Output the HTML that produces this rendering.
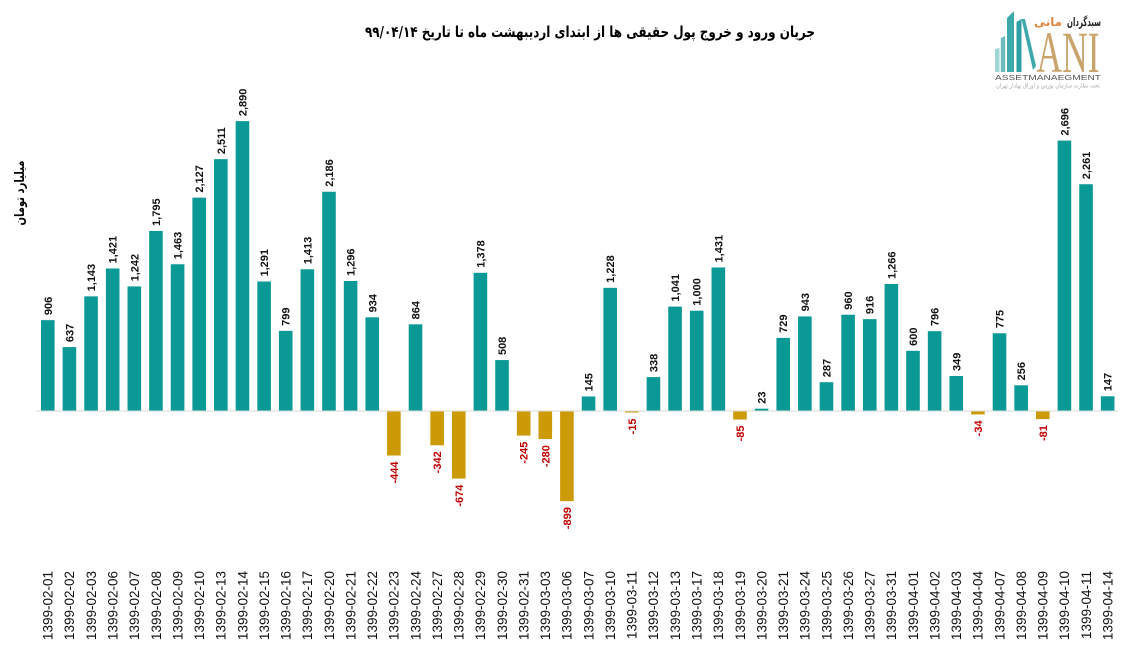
<!DOCTYPE html>
<html>
<head>
<meta charset="utf-8">
<style>
html,body{margin:0;padding:0;background:#fff;}
svg{display:block;}
.v{font-family:"Liberation Sans",sans-serif;font-size:11px;font-weight:bold;fill:#111;}
.n{font-family:"Liberation Sans",sans-serif;font-size:11px;font-weight:bold;fill:#c00000;}
.xl{font-family:"Liberation Sans",sans-serif;font-size:13.5px;fill:#111;}
.fa{font-family:"DejaVu Sans","Noto Sans CJK SC",sans-serif;}
</style>
</head>
<body>
<svg width="1123" height="663" viewBox="0 0 1123 663" xmlns="http://www.w3.org/2000/svg">
<rect width="1123" height="663" fill="#fff"/>

<!-- Title -->
<text class="fa" x="590" y="37" text-anchor="middle" font-size="15" font-weight="bold" fill="#000" textLength="450" lengthAdjust="spacingAndGlyphs">جریان ورود و خروج پول حقیقی ها از ابتدای اردیبهشت ماه تا تاریخ ۹۹/۰۴/۱۴</text>

<!-- Y axis title -->
<text class="fa" transform="translate(24,193) rotate(-90)" text-anchor="middle" font-size="13" font-weight="bold" fill="#000" textLength="65" lengthAdjust="spacingAndGlyphs">میلیارد تومان</text>

<!-- Logo -->
<g>
  <polygon points="995,49 999.5,48 999.5,72 995,72" fill="#9fd5d4"/>
  <polygon points="1000.8,38 1005.2,36 1005.2,72 1000.8,72" fill="#6cbcbd"/>
  <polygon points="1007,18 1014,11 1014,72 1007,72" fill="#3ea9ab"/>
  <polygon points="1016.5,22 1021.5,19 1021.5,72 1016.5,72" fill="#2e9fa2"/>
  <polygon points="1021.5,19 1025,19 1036,66 1033,70" fill="#3ea9ab"/>
  <text x="1068" y="72" font-family="Liberation Serif,serif" font-size="58" fill="#c9a46d" textLength="63" lengthAdjust="spacingAndGlyphs" text-anchor="middle">ANI</text>
  <text x="995" y="80" font-family="Liberation Sans,sans-serif" font-size="7.5" fill="#555" textLength="106" lengthAdjust="spacingAndGlyphs">ASSETMANAEGMENT</text>
  <text class="fa" x="1048" y="87.5" text-anchor="middle" font-size="6" fill="#aaa" textLength="104" lengthAdjust="spacingAndGlyphs">تحت نظارت سازمان بورس و اوراق بهادار تهران</text>
  <text class="fa" x="1084" y="26" text-anchor="middle" font-size="12" font-weight="bold" fill="#222" textLength="34" lengthAdjust="spacingAndGlyphs">سبدگردان</text>
  <text class="fa" x="1048" y="26" text-anchor="middle" font-size="12" font-weight="bold" fill="#e0853e" textLength="28" lengthAdjust="spacingAndGlyphs">مانی</text>
</g>

<!-- Bars -->
<g fill="#0a9994">
<rect x="41.00" y="320.13" width="13.6" height="90.87"/>
<rect x="62.63" y="347.11" width="13.6" height="63.89"/>
<rect x="84.26" y="296.36" width="13.6" height="114.64"/>
<rect x="105.89" y="268.47" width="13.6" height="142.53"/>
<rect x="127.52" y="286.43" width="13.6" height="124.57"/>
<rect x="149.15" y="230.96" width="13.6" height="180.04"/>
<rect x="170.78" y="264.26" width="13.6" height="146.74"/>
<rect x="192.41" y="197.66" width="13.6" height="213.34"/>
<rect x="214.04" y="159.15" width="13.6" height="251.85"/>
<rect x="235.67" y="121.13" width="13.6" height="289.87"/>
<rect x="257.30" y="281.51" width="13.6" height="129.49"/>
<rect x="278.93" y="330.86" width="13.6" height="80.14"/>
<rect x="300.56" y="269.28" width="13.6" height="141.72"/>
<rect x="322.19" y="191.74" width="13.6" height="219.26"/>
<rect x="343.82" y="281.01" width="13.6" height="129.99"/>
<rect x="365.45" y="317.32" width="13.6" height="93.68"/>
<rect x="408.71" y="324.34" width="13.6" height="86.66"/>
<rect x="473.60" y="272.79" width="13.6" height="138.21"/>
<rect x="495.23" y="360.05" width="13.6" height="50.95"/>
<rect x="581.75" y="396.46" width="13.6" height="14.54"/>
<rect x="603.38" y="287.83" width="13.6" height="123.17"/>
<rect x="646.64" y="377.10" width="13.6" height="33.90"/>
<rect x="668.27" y="306.59" width="13.6" height="104.41"/>
<rect x="689.90" y="310.70" width="13.6" height="100.30"/>
<rect x="711.53" y="267.47" width="13.6" height="143.53"/>
<rect x="754.79" y="408.69" width="13.6" height="2.31"/>
<rect x="776.42" y="337.88" width="13.6" height="73.12"/>
<rect x="798.05" y="316.42" width="13.6" height="94.58"/>
<rect x="819.68" y="382.21" width="13.6" height="28.79"/>
<rect x="841.31" y="314.71" width="13.6" height="96.29"/>
<rect x="862.94" y="319.13" width="13.6" height="91.87"/>
<rect x="884.57" y="284.02" width="13.6" height="126.98"/>
<rect x="906.20" y="350.82" width="13.6" height="60.18"/>
<rect x="927.83" y="331.16" width="13.6" height="79.84"/>
<rect x="949.46" y="376.00" width="13.6" height="35.00"/>
<rect x="992.72" y="333.27" width="13.6" height="77.73"/>
<rect x="1014.35" y="385.32" width="13.6" height="25.68"/>
<rect x="1057.61" y="140.59" width="13.6" height="270.41"/>
<rect x="1079.24" y="184.22" width="13.6" height="226.78"/>
<rect x="1100.87" y="396.26" width="13.6" height="14.74"/>
</g>
<g fill="#cc9a06">
<rect x="387.08" y="411" width="13.6" height="44.53"/>
<rect x="430.34" y="411" width="13.6" height="34.30"/>
<rect x="451.97" y="411" width="13.6" height="67.60"/>
<rect x="516.86" y="411" width="13.6" height="24.57"/>
<rect x="538.49" y="411" width="13.6" height="28.08"/>
<rect x="560.12" y="411" width="13.6" height="90.17"/>
<rect x="625.01" y="411" width="13.6" height="1.50"/>
<rect x="733.16" y="411" width="13.6" height="8.53"/>
<rect x="971.09" y="411" width="13.6" height="3.41"/>
<rect x="1035.98" y="411" width="13.6" height="8.12"/>
</g>

<!-- zero axis -->
<line x1="36" y1="411" x2="1118" y2="411" stroke="#d9d9d9" stroke-width="1"/>

<!-- Positive value labels -->
<g class="v">
<text transform="translate(51.80,315.13) rotate(-90)">906</text>
<text transform="translate(73.43,342.11) rotate(-90)">637</text>
<text transform="translate(95.06,291.36) rotate(-90)">1,143</text>
<text transform="translate(116.69,263.47) rotate(-90)">1,421</text>
<text transform="translate(138.32,281.43) rotate(-90)">1,242</text>
<text transform="translate(159.95,225.96) rotate(-90)">1,795</text>
<text transform="translate(181.58,259.26) rotate(-90)">1,463</text>
<text transform="translate(203.21,192.66) rotate(-90)">2,127</text>
<text transform="translate(224.84,154.15) rotate(-90)">2,511</text>
<text transform="translate(246.47,116.13) rotate(-90)">2,890</text>
<text transform="translate(268.10,276.51) rotate(-90)">1,291</text>
<text transform="translate(289.73,325.86) rotate(-90)">799</text>
<text transform="translate(311.36,264.28) rotate(-90)">1,413</text>
<text transform="translate(332.99,186.74) rotate(-90)">2,186</text>
<text transform="translate(354.62,276.01) rotate(-90)">1,296</text>
<text transform="translate(376.25,312.32) rotate(-90)">934</text>
<text transform="translate(419.51,319.34) rotate(-90)">864</text>
<text transform="translate(484.40,267.79) rotate(-90)">1,378</text>
<text transform="translate(506.03,355.05) rotate(-90)">508</text>
<text transform="translate(592.55,391.46) rotate(-90)">145</text>
<text transform="translate(614.18,282.83) rotate(-90)">1,228</text>
<text transform="translate(657.44,372.10) rotate(-90)">338</text>
<text transform="translate(679.07,301.59) rotate(-90)">1,041</text>
<text transform="translate(700.70,305.70) rotate(-90)">1,000</text>
<text transform="translate(722.33,262.47) rotate(-90)">1,431</text>
<text transform="translate(765.59,403.69) rotate(-90)">23</text>
<text transform="translate(787.22,332.88) rotate(-90)">729</text>
<text transform="translate(808.85,311.42) rotate(-90)">943</text>
<text transform="translate(830.48,377.21) rotate(-90)">287</text>
<text transform="translate(852.11,309.71) rotate(-90)">960</text>
<text transform="translate(873.74,314.13) rotate(-90)">916</text>
<text transform="translate(895.37,279.02) rotate(-90)">1,266</text>
<text transform="translate(917.00,345.82) rotate(-90)">600</text>
<text transform="translate(938.63,326.16) rotate(-90)">796</text>
<text transform="translate(960.26,371.00) rotate(-90)">349</text>
<text transform="translate(1003.52,328.27) rotate(-90)">775</text>
<text transform="translate(1025.15,380.32) rotate(-90)">256</text>
<text transform="translate(1068.41,135.59) rotate(-90)">2,696</text>
<text transform="translate(1090.04,179.22) rotate(-90)">2,261</text>
<text transform="translate(1111.67,391.26) rotate(-90)">147</text>
</g>

<!-- Negative value labels -->
<g class="n" text-anchor="end">
<text transform="translate(397.88,461.53) rotate(-90)">-444</text>
<text transform="translate(441.14,451.30) rotate(-90)">-342</text>
<text transform="translate(462.77,484.60) rotate(-90)">-674</text>
<text transform="translate(527.66,441.57) rotate(-90)">-245</text>
<text transform="translate(549.29,445.08) rotate(-90)">-280</text>
<text transform="translate(570.92,507.17) rotate(-90)">-899</text>
<text transform="translate(635.81,418.50) rotate(-90)">-15</text>
<text transform="translate(743.96,425.53) rotate(-90)">-85</text>
<text transform="translate(981.89,420.41) rotate(-90)">-34</text>
<text transform="translate(1046.78,425.12) rotate(-90)">-81</text>
</g>

<!-- X axis labels -->
<g class="xl" text-anchor="end">
<text transform="translate(52.60,571) rotate(-90)">1399-02-01</text>
<text transform="translate(74.23,571) rotate(-90)">1399-02-02</text>
<text transform="translate(95.86,571) rotate(-90)">1399-02-03</text>
<text transform="translate(117.49,571) rotate(-90)">1399-02-06</text>
<text transform="translate(139.12,571) rotate(-90)">1399-02-07</text>
<text transform="translate(160.75,571) rotate(-90)">1399-02-08</text>
<text transform="translate(182.38,571) rotate(-90)">1399-02-09</text>
<text transform="translate(204.01,571) rotate(-90)">1399-02-10</text>
<text transform="translate(225.64,571) rotate(-90)">1399-02-13</text>
<text transform="translate(247.27,571) rotate(-90)">1399-02-14</text>
<text transform="translate(268.90,571) rotate(-90)">1399-02-15</text>
<text transform="translate(290.53,571) rotate(-90)">1399-02-16</text>
<text transform="translate(312.16,571) rotate(-90)">1399-02-17</text>
<text transform="translate(333.79,571) rotate(-90)">1399-02-20</text>
<text transform="translate(355.42,571) rotate(-90)">1399-02-21</text>
<text transform="translate(377.05,571) rotate(-90)">1399-02-22</text>
<text transform="translate(398.68,571) rotate(-90)">1399-02-23</text>
<text transform="translate(420.31,571) rotate(-90)">1399-02-24</text>
<text transform="translate(441.94,571) rotate(-90)">1399-02-27</text>
<text transform="translate(463.57,571) rotate(-90)">1399-02-28</text>
<text transform="translate(485.20,571) rotate(-90)">1399-02-29</text>
<text transform="translate(506.83,571) rotate(-90)">1399-02-30</text>
<text transform="translate(528.46,571) rotate(-90)">1399-02-31</text>
<text transform="translate(550.09,571) rotate(-90)">1399-03-03</text>
<text transform="translate(571.72,571) rotate(-90)">1399-03-06</text>
<text transform="translate(593.35,571) rotate(-90)">1399-03-07</text>
<text transform="translate(614.98,571) rotate(-90)">1399-03-10</text>
<text transform="translate(636.61,571) rotate(-90)">1399-03-11</text>
<text transform="translate(658.24,571) rotate(-90)">1399-03-12</text>
<text transform="translate(679.87,571) rotate(-90)">1399-03-13</text>
<text transform="translate(701.50,571) rotate(-90)">1399-03-17</text>
<text transform="translate(723.13,571) rotate(-90)">1399-03-18</text>
<text transform="translate(744.76,571) rotate(-90)">1399-03-19</text>
<text transform="translate(766.39,571) rotate(-90)">1399-03-20</text>
<text transform="translate(788.02,571) rotate(-90)">1399-03-21</text>
<text transform="translate(809.65,571) rotate(-90)">1399-03-24</text>
<text transform="translate(831.28,571) rotate(-90)">1399-03-25</text>
<text transform="translate(852.91,571) rotate(-90)">1399-03-26</text>
<text transform="translate(874.54,571) rotate(-90)">1399-03-27</text>
<text transform="translate(896.17,571) rotate(-90)">1399-03-31</text>
<text transform="translate(917.80,571) rotate(-90)">1399-04-01</text>
<text transform="translate(939.43,571) rotate(-90)">1399-04-02</text>
<text transform="translate(961.06,571) rotate(-90)">1399-04-03</text>
<text transform="translate(982.69,571) rotate(-90)">1399-04-04</text>
<text transform="translate(1004.32,571) rotate(-90)">1399-04-07</text>
<text transform="translate(1025.95,571) rotate(-90)">1399-04-08</text>
<text transform="translate(1047.58,571) rotate(-90)">1399-04-09</text>
<text transform="translate(1069.21,571) rotate(-90)">1399-04-10</text>
<text transform="translate(1090.84,571) rotate(-90)">1399-04-11</text>
<text transform="translate(1112.47,571) rotate(-90)">1399-04-14</text>
</g>
</svg>
</body>
</html>
